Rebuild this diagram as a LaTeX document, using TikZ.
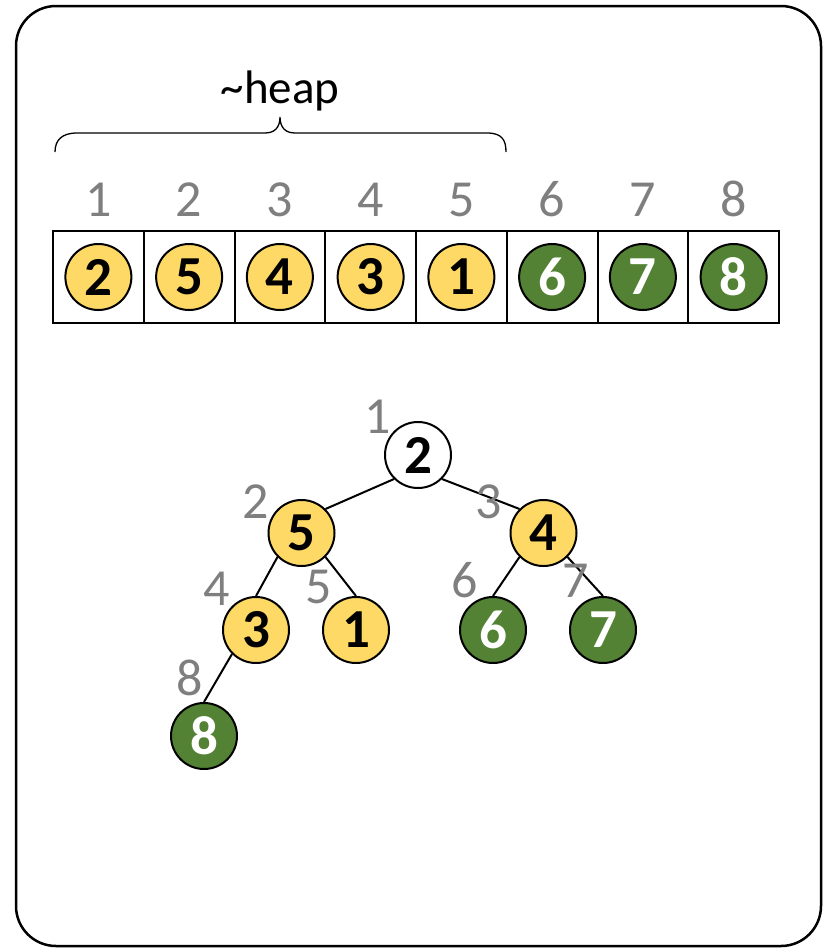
\documentclass[tikz,border=0pt]{standalone}
\usepackage{fontspec}
\setmainfont{Carlito}
\definecolor{idxgray}{HTML}{7F7F7F}
\definecolor{heapyellow}{HTML}{FFD966}
\definecolor{sortgreen}{HTML}{548235}
\tikzset{
  frame/.style={draw=black, line width=2.5pt, rounded corners=40pt},
  cellbox/.style={draw=black, line width=2pt, minimum width=90.75pt, minimum height=92pt, inner sep=0pt},
  ball/.style={circle, draw=black, line width=2pt, minimum size=66pt, inner sep=0pt,
    font=\fontsize{55}{64}\selectfont\bfseries},
  inheap/.style={ball, fill=heapyellow, text=black},
  sorted/.style={ball, fill=sortgreen, text=white},
  rootball/.style={ball, fill=white, text=black},
  idx/.style={text=idxgray, inner sep=0pt, anchor=base, font=\fontsize{52}{60}\selectfont},
  edge/.style={draw=black, line width=2pt},
  bracepath/.style={draw=black, line width=1.3pt},
}
\begin{document}
\begin{tikzpicture}[x=1pt, y=-1pt]
\useasboundingbox (0,0) rectangle (829,948);
% outer frame
\draw[frame] (16,6) rectangle (821,946);

% brace with label
\draw[bracepath] (55,152) .. controls (55,140) and (62,133) .. (77,133) -- (265,133)
  .. controls (275,133) and (280,127) .. (280,117)
  .. controls (280,127) and (285,133) .. (295,133) -- (487,133)
  .. controls (502,133) and (506,140) .. (506,152);
\node[anchor=base, inner sep=0pt, font=\fontsize{47}{56}\selectfont] (heaplbl) at (280,103) {\textasciitilde heap};

% array cells, positions and values
\foreach \i/\v/\s in {1/2/inheap, 2/5/inheap, 3/4/inheap, 4/3/inheap, 5/1/inheap, 6/6/sorted, 7/7/sorted, 8/8/sorted} {
  \node[cellbox] (c\i) at ({53+90.75*(\i-0.5)},277) {};
  \node[\s] (a\i) at (c\i.center) {\v};
  \node[idx] (i\i) at ({53+90.75*(\i-0.5)},216) {\i};
}

% tree nodes
\node[rootball] (t1) at (418,455) {2};
\node[inheap] (t2) at (301.5,533) {5};
\node[inheap] (t3) at (543.5,533) {4};
\node[inheap] (t4) at (256,630) {3};
\node[inheap] (t5) at (356,630) {1};
\node[sorted] (t6) at (493,630) {6};
\node[sorted] (t7) at (603,630) {7};
\node[sorted] (t8) at (204,736) {8};

% tree edges
\draw[edge] (t1.-135) -- (t2.45);
\draw[edge] (t1.-45) -- (t3.135);
\draw[edge] (t2.-135) -- (t4.north);
\draw[edge] (t2.-45) -- (t5.north);
\draw[edge] (t3.-135) -- (t6.north);
\draw[edge] (t3.-45) -- (t7.north);
\draw[edge] (t4.-135) -- (t8.north);

% tree position labels
\node[idx] (l1) at (378,433) {1};
\node[idx] (l2) at (256,518) {2};
\node[idx] (l3) at (489,518) {3};
\node[idx] (l4) at (217,605) {4};
\node[idx] (l5) at (319,603) {5};
\node[idx] (l6) at (465,597) {6};
\node[idx] (l7) at (576,597) {7};
\node[idx] (l8) at (190,695) {8};
\end{tikzpicture}
\end{document}
